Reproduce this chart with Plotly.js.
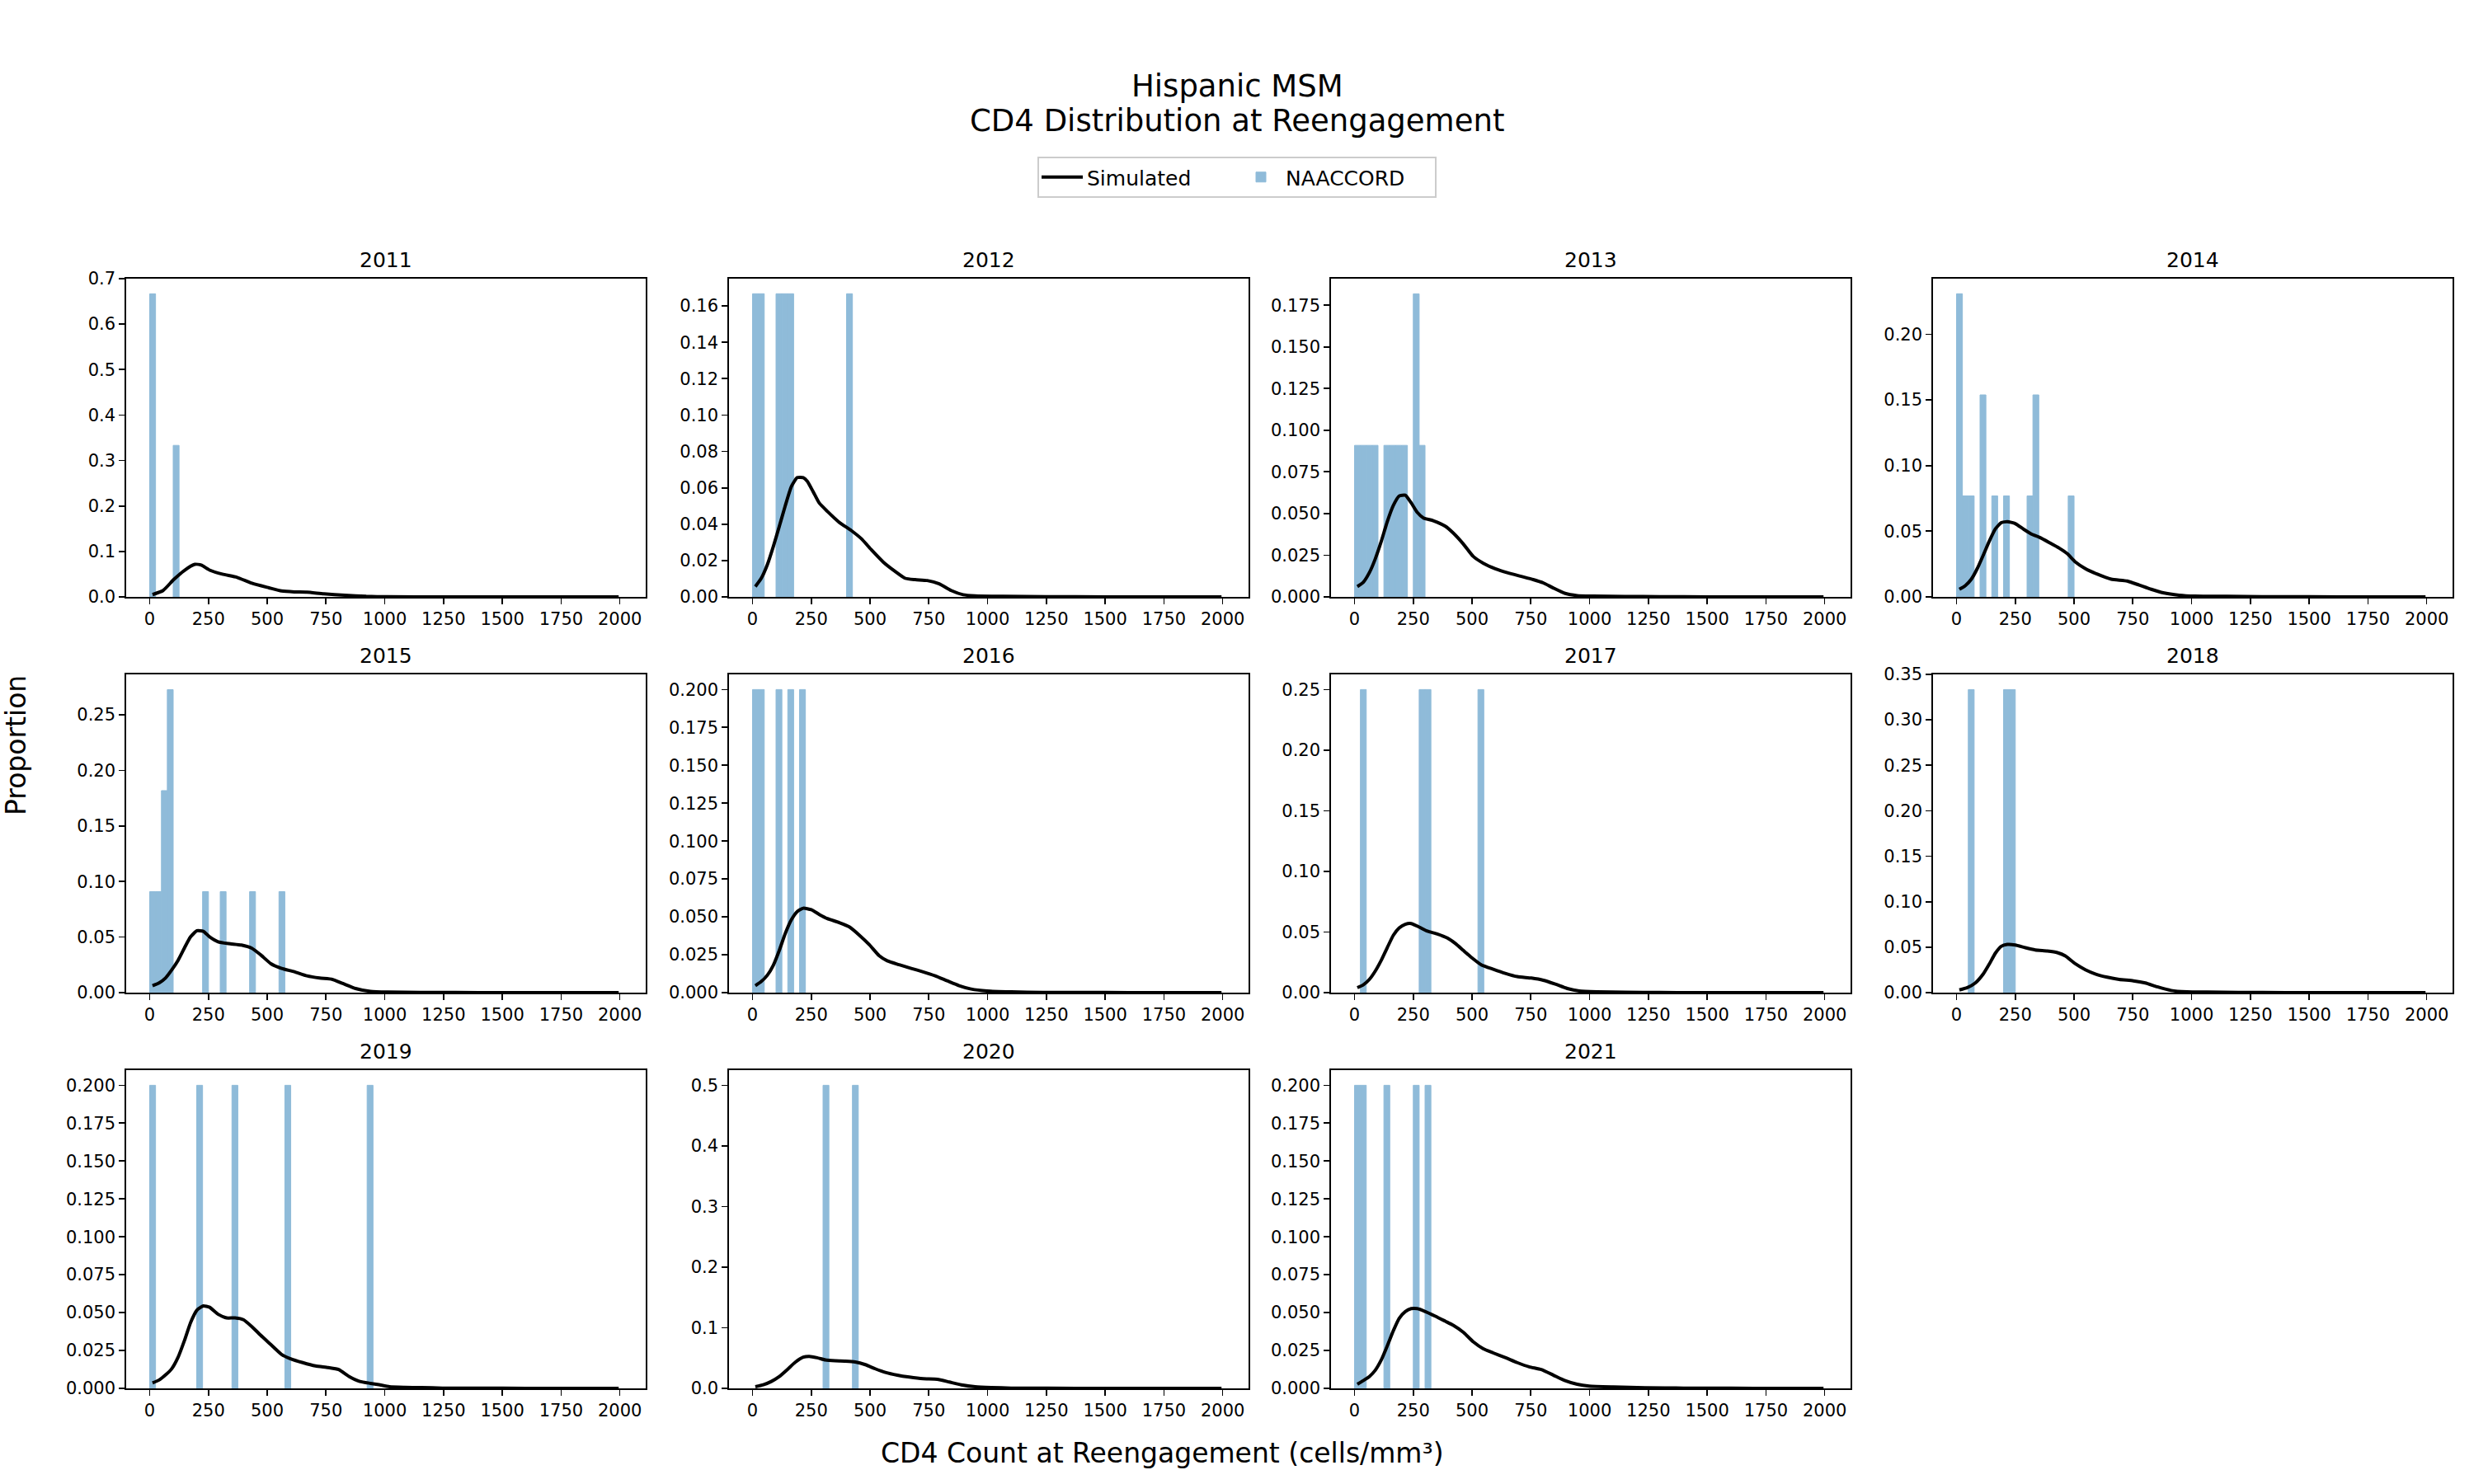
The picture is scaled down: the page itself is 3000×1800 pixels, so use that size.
<!DOCTYPE html>
<html><head><meta charset="utf-8">
<script src="https://cdn.plot.ly/plotly-3.0.1.min.js"></script>
<style>html,body{margin:0;padding:0;background:#fff}</style>
</head><body><div id="chart" style="width:3000px;height:1800px"></div>
<script>
// ---------- DATA ----------
const years = ['2011','2012','2013','2014','2015','2016','2017','2018','2019','2020','2021'];
const binWidth = 25;
const xTicks = [0,250,500,750,1000,1250,1500,1750,2000];

// NAACCORD histogram: left edge of each non-empty bin and its proportion
const naaccordBins2011 = [0, 100];
const naaccordProp2011 = [0.6667, 0.3333];
const naaccordBins2012 = [0, 25, 100, 125, 150, 400];
const naaccordProp2012 = [0.1667, 0.1667, 0.1667, 0.1667, 0.1667, 0.1667];
const naaccordBins2013 = [0, 25, 50, 75, 125, 150, 175, 200, 250, 275];
const naaccordProp2013 = [0.0909, 0.0909, 0.0909, 0.0909, 0.0909, 0.0909, 0.0909, 0.0909, 0.1818, 0.0909];
const naaccordBins2014 = [0, 25, 50, 100, 150, 200, 300, 325, 475];
const naaccordProp2014 = [0.2308, 0.0769, 0.0769, 0.1538, 0.0769, 0.0769, 0.0769, 0.1538, 0.0769];
const naaccordBins2015 = [0, 25, 50, 75, 225, 300, 425, 550];
const naaccordProp2015 = [0.0909, 0.0909, 0.1818, 0.2727, 0.0909, 0.0909, 0.0909, 0.0909];
const naaccordBins2016 = [0, 25, 100, 150, 200];
const naaccordProp2016 = [0.2, 0.2, 0.2, 0.2, 0.2];
const naaccordBins2017 = [25, 275, 300, 525];
const naaccordProp2017 = [0.25, 0.25, 0.25, 0.25];
const naaccordBins2018 = [50, 200, 225];
const naaccordProp2018 = [0.3333, 0.3333, 0.3333];
const naaccordBins2019 = [0, 200, 350, 575, 925];
const naaccordProp2019 = [0.2, 0.2, 0.2, 0.2, 0.2];
const naaccordBins2020 = [300, 425];
const naaccordProp2020 = [0.5, 0.5];
const naaccordBins2021 = [0, 25, 125, 250, 300];
const naaccordProp2021 = [0.2, 0.2, 0.2, 0.2, 0.2];

// Simulated density curves
const simX2011 = [12,57,102,147,192,219,255,309,372,435,507,561,615,669,741,831,921,1011,1250,1500,1750,1995];
const simY2011 = [0.005,0.014,0.038,0.058,0.0715,0.070,0.059,0.050,0.043,0.030,0.020,0.013,0.011,0.0105,0.0067,0.0036,0.0012,0.0003,0.0001,0.00005,0.00002,0];
const simX2012 = [12,37,63,88,114,139,165,190,216,233,259,284,318,369,420,463,505,556,607,650,692,743,794,845,896,947,1066,1250,1500,1750,1995];
const simY2012 = [0.0057,0.0102,0.0177,0.0275,0.0388,0.050,0.0606,0.0656,0.0656,0.0636,0.0576,0.0516,0.0471,0.041,0.0365,0.032,0.026,0.0192,0.014,0.0102,0.0095,0.009,0.0072,0.0035,0.0012,0.0006,0.0003,0.0001,0.00005,0.00002,0];
const simX2013 = [12,37,63,88,114,139,165,190,216,241,267,293,335,386,420,463,505,548,599,650,709,760,803,845,896,947,1015,1150,1300,1500,1750,1995];
const simY2013 = [0.0062,0.0087,0.0145,0.0227,0.0334,0.045,0.0548,0.0605,0.061,0.0564,0.0507,0.0474,0.0457,0.0424,0.0383,0.0317,0.0243,0.0202,0.0169,0.0145,0.0123,0.0104,0.0084,0.0054,0.0021,0.0008,0.0005,0.0003,0.0001,0.00005,0.00002,0];
const simX2014 = [12,37,63,88,114,139,165,190,216,250,284,318,352,395,437,471,505,548,599,658,726,777,828,879,947,1015,1151,1300,1500,1750,1995];
const simY2014 = [0.0058,0.0085,0.0135,0.0215,0.0319,0.0423,0.0517,0.0565,0.0573,0.0558,0.0517,0.0479,0.0454,0.0413,0.0371,0.0329,0.0267,0.0215,0.0173,0.0135,0.0121,0.009,0.0058,0.0031,0.0013,0.0006,0.0004,0.0002,0.0001,0.00003,0];
const simX2015 = [12,40,67,94,121,148,174,201,228,255,291,336,390,435,471,516,561,615,669,723,777,822,876,939,1011,1155,1300,1500,1750,1995];
const simY2015 = [0.0062,0.0087,0.0131,0.0205,0.0292,0.0403,0.0502,0.0557,0.0552,0.0502,0.0458,0.0441,0.0428,0.0399,0.0342,0.026,0.0218,0.0188,0.0151,0.0131,0.0119,0.0082,0.0037,0.0012,0.0005,0.0002,0.0001,0.00005,0.00002,0];
const simX2016 = [12,37,63,88,114,139,165,190,216,250,284,318,369,412,454,497,539,573,624,675,726,777,828,879,930,998,1100,1236,1400,1600,1800,1995];
const simY2016 = [0.0046,0.0073,0.0115,0.0179,0.0279,0.0389,0.048,0.0535,0.0557,0.0547,0.0516,0.0489,0.0462,0.0434,0.038,0.0316,0.0243,0.021,0.0184,0.016,0.0137,0.0111,0.0078,0.0046,0.0024,0.0011,0.0005,0.0002,0.0001,0.00005,0.00002,0];
const simX2017 = [12,37,63,88,114,139,165,190,216,241,275,310,352,395,429,463,497,539,590,641,692,752,803,854,905,956,1032,1150,1300,1500,1750,1995];
const simY2017 = [0.0041,0.0064,0.0109,0.0177,0.0268,0.037,0.0473,0.0534,0.0564,0.057,0.0541,0.0507,0.0484,0.045,0.0405,0.0348,0.0291,0.023,0.0193,0.0159,0.0132,0.012,0.0102,0.007,0.0034,0.0014,0.0007,0.0003,0.0001,0.00005,0.00002,0];
const simX2018 = [12,46,80,114,139,165,190,216,250,293,335,386,429,463,505,548,590,641,692,752,803,854,913,981,1066,1200,1400,1600,1800,1995];
const simY2018 = [0.003,0.0055,0.0106,0.0206,0.0312,0.0433,0.0509,0.053,0.0524,0.0494,0.047,0.0458,0.044,0.0403,0.0318,0.0252,0.0206,0.017,0.0145,0.013,0.0106,0.0064,0.0024,0.0009,0.0006,0.0002,0.0001,0.00005,0.00002,0];
const simX2019 = [12,40,67,94,121,148,174,201,228,255,291,327,363,399,435,471,516,561,597,651,705,759,804,849,894,939,975,1020,1083,1155,1245,1400,1600,1800,1995];
const simY2019 = [0.0036,0.0055,0.0088,0.013,0.0206,0.0316,0.0434,0.0516,0.0544,0.0535,0.0489,0.0465,0.0465,0.0453,0.0407,0.0352,0.0288,0.0224,0.0197,0.017,0.0148,0.0137,0.0124,0.0078,0.0046,0.0033,0.0024,0.0011,0.0007,0.0005,0.0002,0.0001,0.00005,0.00002,0];
const simX2020 = [12,46,80,114,148,182,216,241,275,310,352,395,437,480,522,565,616,667,726,786,837,888,947,1015,1100,1250,1500,1750,1995];
const simY2020 = [0.0027,0.0059,0.0114,0.0195,0.0309,0.0432,0.0514,0.0527,0.0505,0.0468,0.0455,0.045,0.0436,0.0391,0.0323,0.0264,0.0218,0.0186,0.0159,0.015,0.0105,0.0059,0.0027,0.0014,0.0005,0.0002,0.0001,0.00003,0];
const simX2021 = [12,37,63,88,114,139,165,190,216,241,267,301,344,386,420,463,505,548,590,641,692,743,794,845,896,947,998,1100,1236,1400,1600,1800,1995];
const simY2021 = [0.0027,0.0051,0.0078,0.0119,0.0188,0.0279,0.038,0.0462,0.0507,0.0526,0.0526,0.0507,0.0476,0.0443,0.0416,0.037,0.0307,0.0261,0.0234,0.0203,0.017,0.0142,0.0124,0.0088,0.0051,0.0027,0.0015,0.0009,0.0004,0.0002,0.0001,0.00003,0];

const naaccordBins = [naaccordBins2011,naaccordBins2012,naaccordBins2013,naaccordBins2014,naaccordBins2015,naaccordBins2016,naaccordBins2017,naaccordBins2018,naaccordBins2019,naaccordBins2020,naaccordBins2021];
const naaccordProp = [naaccordProp2011,naaccordProp2012,naaccordProp2013,naaccordProp2014,naaccordProp2015,naaccordProp2016,naaccordProp2017,naaccordProp2018,naaccordProp2019,naaccordProp2020,naaccordProp2021];
const simX = [simX2011,simX2012,simX2013,simX2014,simX2015,simX2016,simX2017,simX2018,simX2019,simX2020,simX2021];
const simY = [simY2011,simY2012,simY2013,simY2014,simY2015,simY2016,simY2017,simY2018,simY2019,simY2020,simY2021];

// y-axis setup per panel
const yTop   = [0.7, 0.175, 0.1909, 0.2423, 0.2864, 0.21, 0.2625, 0.35, 0.21, 0.525, 0.21];
const yDtick = [0.1, 0.02, 0.025, 0.05, 0.05, 0.025, 0.05, 0.05, 0.025, 0.1, 0.025];
const yFmt   = ['.1f','.2f','.3f','.2f','.2f','.3f','.2f','.2f','.3f','.1f','.3f'];

// ---------- LAYOUT GEOMETRY ----------
const W = 3000, H = 1800;
const colLeft = [153, 884, 1614, 2344], colW = 630;
const rowTop = [338, 818, 1298], rowH = 386;
const FONT = 'DejaVu Sans, Liberation Sans, sans-serif';
const barColor = '#8fbbd9';

const traces = [];
const layout = {
  width: W, height: H,
  margin: {l:0, r:0, t:0, b:0},
  paper_bgcolor: '#fff', plot_bgcolor: '#fff',
  font: {family: FONT, color: '#000'},
  showlegend: true,
  hovermode: false,
  legend: {
    orientation: 'h', x: 0.5, xanchor: 'center', y: 1 - 190/H, yanchor: 'top',
    font: {size: 25, family: FONT, color: '#000'},
    bordercolor: '#cccccc', borderwidth: 2, bgcolor: '#fff',
    itemwidth: 50, entrywidth: 176, entrywidthmode: 'pixels'
  },
  annotations: []
};

years.forEach((yr, i) => {
  const r = Math.floor(i / 4), c = i % 4;
  const n = i === 0 ? '' : String(i + 1);
  const xa = 'x' + n, ya = 'y' + n;
  traces.push({
    type: 'bar', x: naaccordBins[i], y: naaccordProp[i], width: binWidth, offset: 0,
    xaxis: xa, yaxis: ya, name: 'NAACCORD', legendgroup: 'naaccord', legendrank: 2,
    showlegend: i === 0, marker: {color: barColor, line: {width: 1, color: barColor}}
  });
  traces.push({
    type: 'scatter', mode: 'lines', x: simX[i], y: simY[i],
    xaxis: xa, yaxis: ya, name: 'Simulated', legendgroup: 'sim', legendrank: 1,
    showlegend: i === 0, line: {color: '#000', width: 4, shape: 'spline', smoothing: 0.5}
  });
  const common = {
    ticks: 'outside', ticklen: 7, tickwidth: 1.7, tickcolor: '#000',
    showline: true, mirror: true, linecolor: '#000', linewidth: 1.7,
    showgrid: false, zeroline: false, fixedrange: true,
    tickfont: {size: 21, family: FONT, color: '#000'}
  };
  layout['xaxis' + n] = Object.assign({}, common, {
    domain: [colLeft[c]/W, (colLeft[c] + colW)/W],
    range: [-100, 2110], tickmode: 'array', tickvals: xTicks,
    ticktext: xTicks.map(String), anchor: ya
  });
  layout['yaxis' + n] = Object.assign({}, common, {
    domain: [1 - (rowTop[r] + rowH)/H, 1 - rowTop[r]/H],
    range: [0, yTop[i]], tickmode: 'linear', tick0: 0, dtick: yDtick[i],
    tickformat: yFmt[i], anchor: xa
  });
  layout.annotations.push({
    xref: 'paper', yref: 'paper', x: (colLeft[c] + colW/2)/W, y: 1 - (rowTop[r] - 23)/H,
    xanchor: 'center', yanchor: 'middle', showarrow: false, text: yr,
    font: {size: 25, family: FONT, color: '#000'}
  });
});

layout.annotations.push(
  {xref:'paper', yref:'paper', x:0.5, y:1 - 104/H, xanchor:'center', yanchor:'middle', showarrow:false,
   text:'Hispanic MSM', font:{size:37, family:FONT, color:'#000'}},
  {xref:'paper', yref:'paper', x:0.5, y:1 - 146/H, xanchor:'center', yanchor:'middle', showarrow:false,
   text:'CD4 Distribution at Reengagement', font:{size:37, family:FONT, color:'#000'}},
  {xref:'paper', yref:'paper', x:19/W, y:1 - 904/H, xanchor:'center', yanchor:'middle', showarrow:false,
   textangle:-90, text:'Proportion', font:{size:33, family:FONT, color:'#000'}},
  {xref:'paper', yref:'paper', x:1409/W, y:1 - 1762/H, xanchor:'center', yanchor:'middle', showarrow:false,
   text:'CD4 Count at Reengagement (cells/mm³)', font:{size:33, family:FONT, color:'#000'}}
);

Plotly.newPlot('chart', traces, layout, {staticPlot: true, displayModeBar: false});
</script>
</body></html>
